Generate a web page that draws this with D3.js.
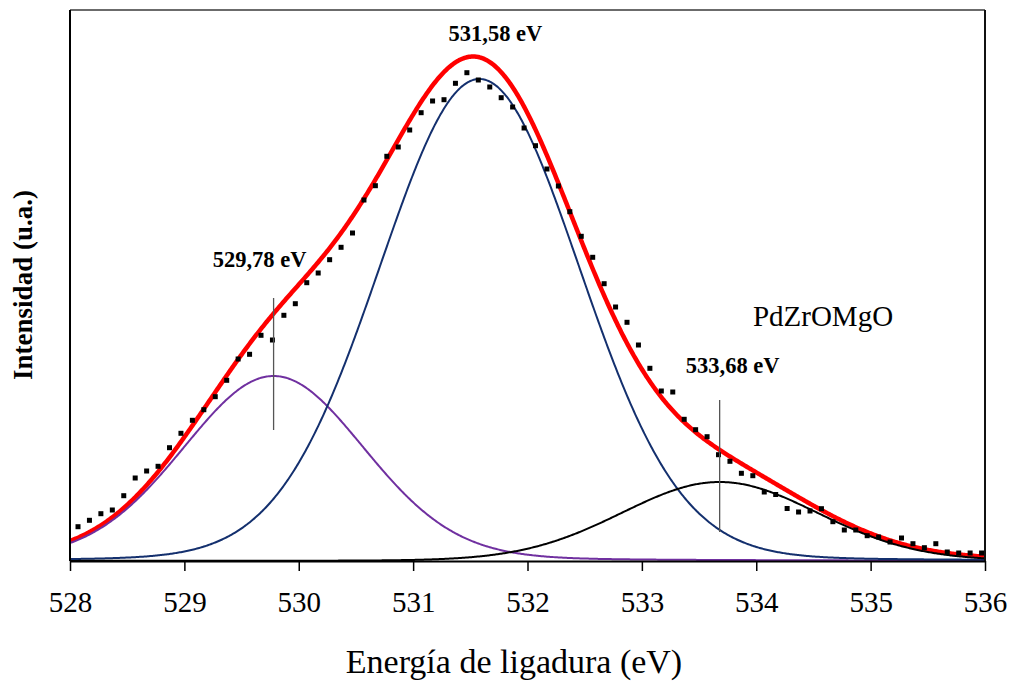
<!DOCTYPE html>
<html>
<head>
<meta charset="utf-8">
<script src="https://cdn.jsdelivr.net/npm/d3@7"></script>
<style>
  html, body { margin: 0; padding: 0; background: #fff; }
  svg { display: block; }
  text { font-family: "Liberation Serif", "DejaVu Serif", serif; fill: #000; }
</style>
</head>
<body>
<svg id="chart" width="1011" height="683"></svg>
<script>
// Binding energy of each measured point (eV)
const energy = [
  528.07, 528.17, 528.27, 528.37, 528.47, 528.57, 528.67, 528.77, 528.87, 528.97,
  529.07, 529.17, 529.27, 529.37, 529.47, 529.57, 529.67, 529.77, 529.87, 529.97,
  530.07, 530.17, 530.27, 530.37, 530.47, 530.57, 530.67, 530.77, 530.87, 530.97,
  531.07, 531.17, 531.27, 531.37, 531.47, 531.57, 531.67, 531.77, 531.87, 531.97,
  532.07, 532.17, 532.27, 532.37, 532.47, 532.57, 532.67, 532.77, 532.87, 532.97,
  533.07, 533.17, 533.27, 533.37, 533.47, 533.57, 533.67, 533.77, 533.87, 533.97,
  534.07, 534.17, 534.27, 534.37, 534.47, 534.57, 534.67, 534.77, 534.87, 534.97,
  535.07, 535.17, 535.27, 535.37, 535.47, 535.57, 535.67, 535.77, 535.87, 535.97
];
// Measured O 1s intensity (arbitrary units)
const intensity = [
  343, 407, 473, 510, 653, 830, 900, 947, 1133, 1277,
  1407, 1513, 1643, 1807, 2020, 2067, 2257, 2210, 2457, 2573,
  2783, 2880, 3013, 3137, 3280, 3610, 3753, 4047, 4140, 4310,
  4483, 4600, 4613, 4777, 4883, 4810, 4740, 4633, 4540, 4330,
  4153, 3920, 3750, 3493, 3247, 3037, 2773, 2540, 2387, 2160,
  1927, 1700, 1690, 1417, 1313, 1243, 1063, 997, 877, 853,
  690, 665, 525, 490, 500, 523, 393, 310, 310, 253,
  240, 190, 230, 173, 133, 173, 90, 80, 80, 80
];

// Fitted components (Gaussian-Lorentzian sum)
const peakLabels  = ["529,78 eV", "531,58 eV", "533,68 eV"];
const peakCenter  = [529.78, 531.58, 533.68];
const peakHeight  = [1850, 4820, 790];
const peakFwhm    = [1.88, 2.07, 2.03];
const peakLorentz = [0.10, 0.05, 0.05];
// Vertical guide lines under the labels (intensity span), none for the main peak
const guideSpan   = [[1310, 2630], null, [290, 1610]];

const xTicks = [528, 529, 530, 531, 532, 533, 534, 535, 536];
const sampleTitle = "PdZrOMgO";
const xTitle = "Energía de ligadura (eV)";
const yTitle = "Intensidad (u.a.)";

const peakColors = ["#7030A0", "#14306e", "#000000"];

const svg = d3.select("#chart");
const plot = { left: 70, right: 985, top: 10, bottom: 561 };

const x = d3.scaleLinear().domain([528, 536]).range([plot.left, plot.right]);
const y = d3.scaleLinear().domain([0, 5510]).range([plot.bottom, plot.top]);

function component(i, e) {
  const t = (e - peakCenter[i]) / peakFwhm[i];
  const gauss = Math.exp(-4 * Math.LN2 * t * t);
  const lor = 1 / (1 + 4 * t * t);
  return peakHeight[i] * ((1 - peakLorentz[i]) * gauss + peakLorentz[i] * lor);
}
const envelope = e => peakCenter.reduce((s, _, i) => s + component(i, e), 0);

const grid = d3.range(0, 801).map(k => 528 + k * 0.01);
const line = d3.line().x(d => x(d[0])).y(d => y(d[1]));

svg.append("defs").append("clipPath").attr("id", "plotclip")
  .append("rect")
  .attr("x", plot.left).attr("y", plot.top)
  .attr("width", plot.right - plot.left).attr("height", plot.bottom - plot.top + 2);

const g = svg.append("g").attr("clip-path", "url(#plotclip)");

// Envelope
g.append("path")
  .datum(grid.map(e => [e, envelope(e)]))
  .attr("d", line)
  .attr("fill", "none")
  .attr("stroke", "#ff0000")
  .attr("stroke-width", 4.5)
  .attr("stroke-linejoin", "round");

// Components
peakCenter.forEach((_, i) => {
  g.append("path")
    .datum(grid.map(e => [e, component(i, e)]))
    .attr("d", line)
    .attr("fill", "none")
    .attr("stroke", peakColors[i])
    .attr("stroke-width", 2);
});

// Guide lines
peakCenter.forEach((c, i) => {
  if (!guideSpan[i]) return;
  svg.append("line")
    .attr("x1", x(c)).attr("x2", x(c))
    .attr("y1", y(guideSpan[i][0])).attr("y2", y(guideSpan[i][1]))
    .attr("stroke", "#555")
    .attr("stroke-width", 1.3);
});

// Measured points
g.selectAll("rect.pt")
  .data(energy.map((e, i) => [e, intensity[i]]))
  .join("rect")
  .attr("class", "pt")
  .attr("x", d => x(d[0]) - 2.5)
  .attr("y", d => y(d[1]) - 2.5)
  .attr("width", 5)
  .attr("height", 5)
  .attr("fill", "#000");

// Frame: top and right borders
svg.append("line")
  .attr("x1", plot.left).attr("x2", plot.right)
  .attr("y1", plot.top).attr("y2", plot.top)
  .attr("stroke", "#6b6b6b").attr("stroke-width", 2);
svg.append("line")
  .attr("x1", plot.right).attr("x2", plot.right)
  .attr("y1", plot.top).attr("y2", plot.bottom)
  .attr("stroke", "#111").attr("stroke-width", 2);
// Left axis line
svg.append("line")
  .attr("x1", plot.left).attr("x2", plot.left)
  .attr("y1", plot.top).attr("y2", plot.bottom)
  .attr("stroke", "#000").attr("stroke-width", 2);

// Bottom axis
const xAxis = svg.append("g")
  .attr("transform", `translate(0,${plot.bottom})`)
  .call(d3.axisBottom(x).tickValues(xTicks).tickFormat(d3.format("d"))
    .tickSizeInner(10).tickSizeOuter(0).tickPadding(20));
xAxis.select(".domain").attr("stroke", "#000").attr("stroke-width", 2.2);
xAxis.selectAll(".tick line").attr("stroke", "#000").attr("stroke-width", 1.5);
xAxis.selectAll(".tick text")
  .attr("font-family", "Liberation Serif, serif")
  .attr("font-size", 29)
  .attr("fill", "#000");

// Peak labels
const labelOffset = [[-14, -31], [16, -16], [13, -27]];
peakCenter.forEach((c, i) => {
  const baseY = guideSpan[i] ? y(guideSpan[i][1]) : y(d3.max(grid, envelope));
  svg.append("text")
    .attr("x", x(c) + labelOffset[i][0])
    .attr("y", baseY + labelOffset[i][1])
    .attr("text-anchor", "middle")
    .attr("font-size", 22.5)
    .attr("font-weight", "bold")
    .text(peakLabels[i]);
});

// Sample name
svg.append("text")
  .attr("x", 823).attr("y", 326)
  .attr("text-anchor", "middle")
  .attr("font-size", 29)
  .text(sampleTitle);

// Axis titles
svg.append("text")
  .attr("x", 514).attr("y", 673)
  .attr("text-anchor", "middle")
  .attr("font-size", 34)
  .text(xTitle);

svg.append("text")
  .attr("transform", "translate(32,285) rotate(-90)")
  .attr("text-anchor", "middle")
  .attr("font-size", 27)
  .attr("font-weight", "bold")
  .text(yTitle);
</script>
</body>
</html>
